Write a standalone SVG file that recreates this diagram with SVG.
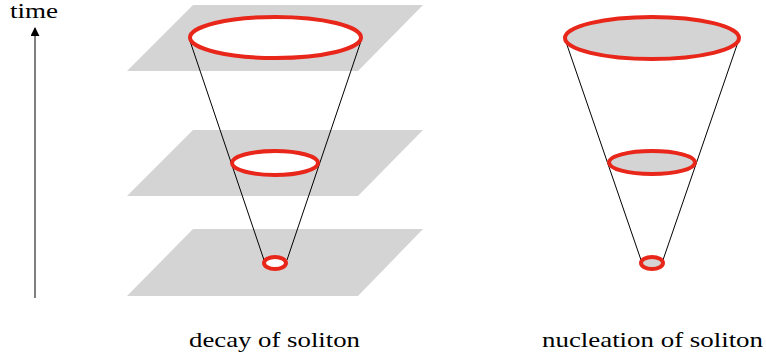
<svg xmlns="http://www.w3.org/2000/svg" width="766" height="363" viewBox="0 0 766 363">
<defs>
<style>
.plane{fill:#d4d4d4;stroke:none}
.ring{stroke:#e8261a;stroke-width:4}
.hole{fill:#ffffff}
.disk{fill:#d4d4d4}
.edge{stroke:#000;stroke-width:1;fill:none}
</style>
<marker id="ah" viewBox="0 0 10 10" refX="9" refY="5" markerWidth="9" markerHeight="9" markerUnits="userSpaceOnUse" orient="auto">
<path d="M0,0 L10,5 L0,10 z" fill="#000"/>
</marker>
</defs>
<rect width="766" height="363" fill="#fff"/>
<g id="plane-top"><polygon class="plane" points="193,5 423,5 358,71 127,71"/></g>
<g id="plane-mid"><polygon class="plane" points="193,130 423,130 358,196 127,196"/></g>
<g id="plane-bottom"><polygon class="plane" points="193,229 423,229 358,296 127,296"/></g>
<g id="connectors">
<line class="edge" x1="190" y1="41" x2="264" y2="260"/>
<line class="edge" x1="361" y1="41" x2="287" y2="260"/>
<line class="edge" x1="566" y1="42" x2="641" y2="260"/>
<line class="edge" x1="738" y1="42" x2="663" y2="260"/>
<line class="edge" x1="35" y1="298" x2="35" y2="28" stroke-width="1.6" marker-end="url(#ah)"/>
</g>
<g id="decay-top"><ellipse class="ring hole" cx="275.5" cy="37.5" rx="85.5" ry="20.5"/></g>
<g id="decay-mid"><ellipse class="ring hole" cx="275" cy="163" rx="43" ry="12"/></g>
<g id="decay-bottom"><ellipse class="ring hole" cx="275" cy="263" rx="11" ry="6"/></g>
<g id="nuc-top"><ellipse class="ring disk" cx="652" cy="38" rx="87" ry="21"/></g>
<g id="nuc-mid"><ellipse class="ring disk" cx="652" cy="162.5" rx="43" ry="11.5"/></g>
<g id="nuc-bottom"><ellipse class="ring disk" cx="652" cy="263" rx="11" ry="6"/></g>
<g id="labels" font-family="Liberation Serif, Times New Roman, serif" font-size="21" fill="#000">
<text x="10" y="18" font-size="20" textLength="48" lengthAdjust="spacingAndGlyphs">time</text>
<text x="189" y="347" textLength="171" lengthAdjust="spacingAndGlyphs">decay of soliton</text>
<text x="542" y="347" textLength="221" lengthAdjust="spacingAndGlyphs">nucleation of soliton</text>
</g>
</svg>
